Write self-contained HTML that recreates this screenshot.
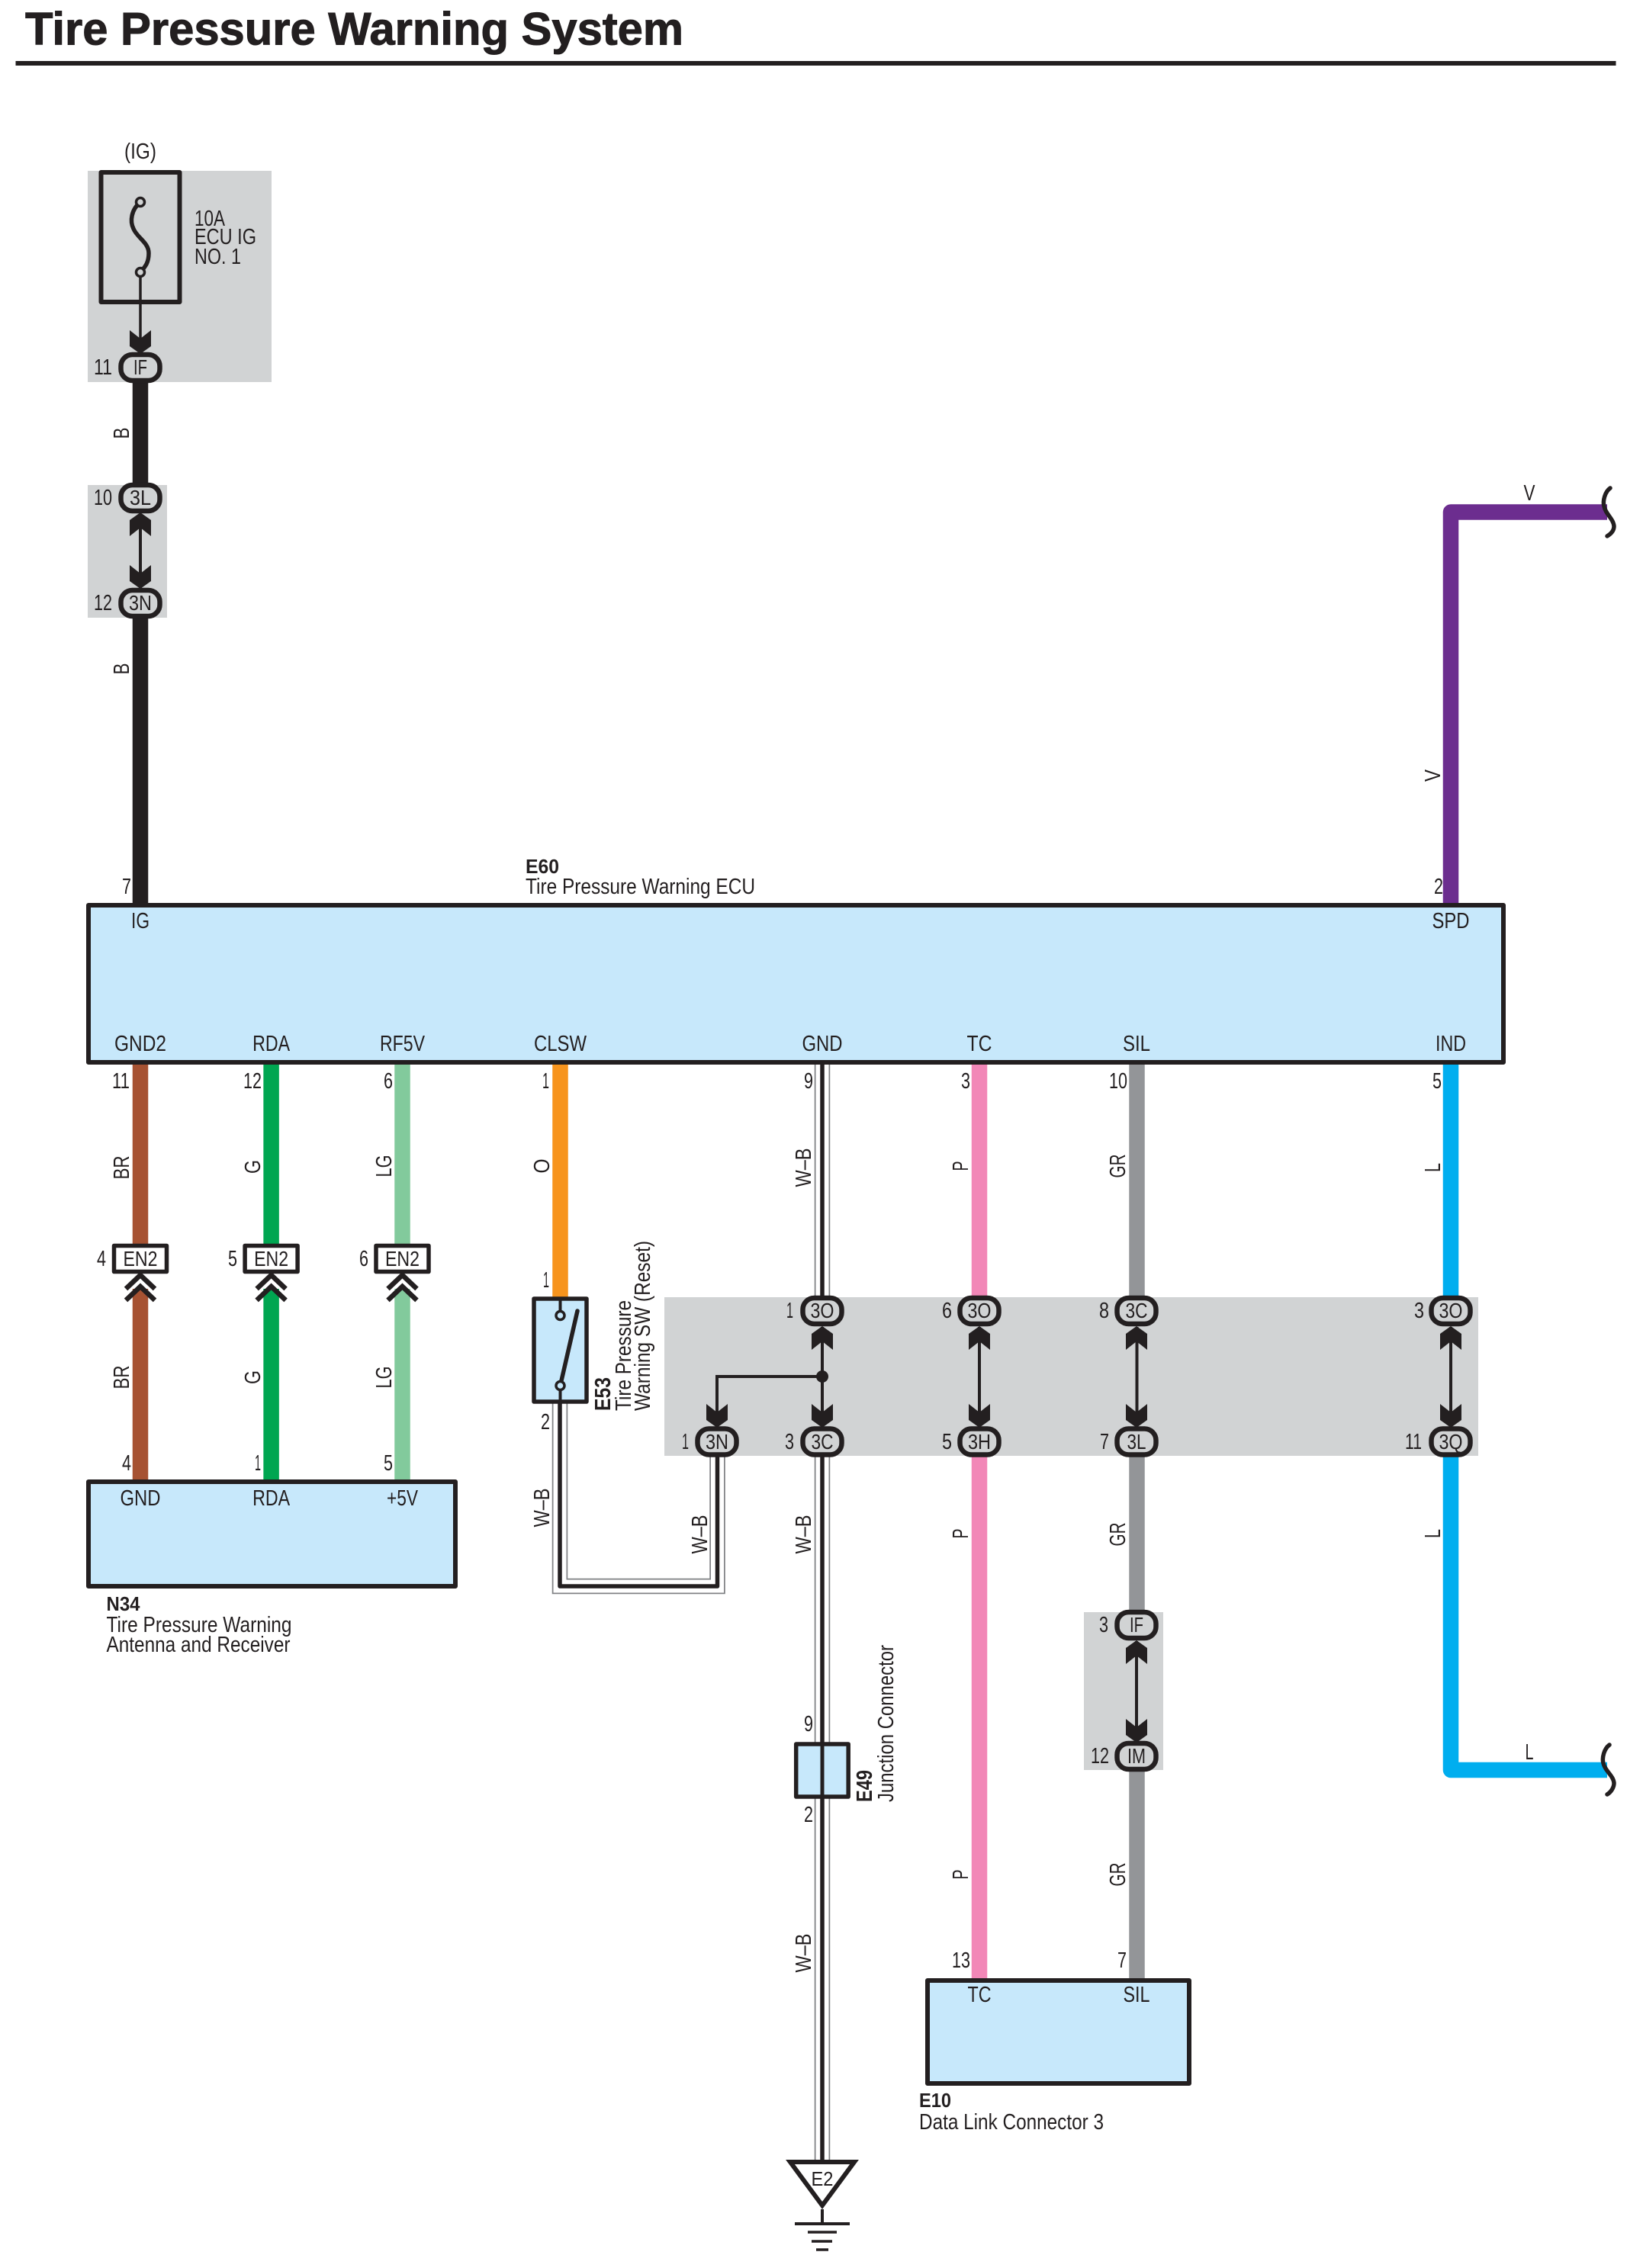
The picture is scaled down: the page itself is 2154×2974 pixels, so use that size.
<!DOCTYPE html>
<html><head><meta charset="utf-8"><title>Tire Pressure Warning System</title>
<style>
html,body{margin:0;padding:0;background:#fff}
svg{display:block}
text{font-family:"Liberation Sans",sans-serif;fill:#231f20;font-size:29px}
.m{text-anchor:middle}
.e{text-anchor:end}
.c{font-size:28px;text-anchor:middle}
.n{font-size:29px;text-anchor:end}
.b{font-weight:bold}
</style></head><body>
<svg xmlns="http://www.w3.org/2000/svg" width="2154" height="2974" viewBox="0 0 2154 2974">
<defs>
<path id="d" d="M0 0L-14 -10L-14 -31L0 -20L14 -31L14 -10Z" fill="#231f20"/>
<path id="u" d="M0 0L-14 10L-14 31L0 20L14 31L14 10Z" fill="#231f20"/>
<rect id="k" x="-25.500" y="-17" width="51" height="34" rx="15" fill="#d1d3d4" stroke="#231f20" stroke-width="6.500"/>
<g id="ch" fill="none" stroke="#231f20" stroke-width="6.500"><path d="M-19 19L0 1L19 19"/><path d="M-19 34L0 16L19 34"/></g>
<rect id="en" x="-34.500" y="-17" width="69" height="34" fill="#fff" stroke="#231f20" stroke-width="5.500" stroke-linejoin="round"/>
</defs>
<rect width="2154" height="2974" fill="#fff"/>

<!-- title -->
<text x="33" y="58.500" font-weight="bold" style="font-size:60px;stroke:#231f20;stroke-width:1" textLength="863" lengthAdjust="spacingAndGlyphs">Tire Pressure Warning System</text>
<rect x="20.500" y="80" width="2098" height="6" fill="#231f20"/>

<!-- grey zones -->
<rect x="115" y="224" width="241" height="277" fill="#d1d3d4"/>
<rect x="115" y="636" width="104" height="174" fill="#d1d3d4"/>
<rect x="871" y="1701" width="1067" height="208" fill="#d1d3d4"/>
<rect x="1421" y="2114" width="104" height="207" fill="#d1d3d4"/>

<!-- coloured wires -->
<g fill="none" stroke-width="20.500">
<path d="M184 500V636M184 810V1186" stroke="#231f20"/>
<path d="M1902 1186V671.500H2107" stroke="#6c2d8f" stroke-linejoin="round"/>
<path d="M184 1393V1632M184 1690V1942" stroke="#a65232"/>
<path d="M355.600 1393V1632M355.600 1690V1942" stroke="#00a651"/>
<path d="M527.500 1393V1632M527.500 1690V1942" stroke="#82ca9c"/>
<path d="M734.500 1393V1702" stroke="#f7941d"/>
<path d="M1284 1393V1700M1284 1910V2596" stroke="#f287b7"/>
<path d="M1490.500 1393V1700M1490.500 1910V2115M1490.500 2320V2596" stroke="#939598"/>
<path d="M1902 1393V1700M1902 1910V2321H2107" stroke="#00aeef" stroke-linejoin="round"/>
</g>

<!-- W-B wires -->
<g fill="none">
<path d="M1078 1393V1700M1078 1910V2836M734 1838V2080H940.500V1910" stroke="#808285" stroke-width="20.500"/>
<path d="M1078 1393V1700M1078 1910V2836M734 1838V2080H940.500V1910" stroke="#fff" stroke-width="17"/>
<path d="M1078 1393V1700M1078 1910V2836M734 1838V2080H940.500V1910" stroke="#231f20" stroke-width="5.500" stroke-linejoin="round"/>
</g>

<!-- fuse -->
<rect x="132.500" y="226" width="103" height="170" fill="none" stroke="#231f20" stroke-width="6" stroke-linejoin="round"/>
<path d="M184 265C172 275 170 290 175 300C180 312 195 318 195 332C195 345 190 350 184 357" fill="none" stroke="#231f20" stroke-width="5.500"/>
<path d="M184 357V465" stroke="#231f20" stroke-width="3.500"/>
<circle cx="184" cy="265" r="5.500" fill="#d1d3d4" stroke="#231f20" stroke-width="3.500"/>
<circle cx="184" cy="357" r="5.500" fill="#d1d3d4" stroke="#231f20" stroke-width="3.500"/>
<text x="255" y="296" textLength="40" lengthAdjust="spacingAndGlyphs">10A</text>
<text x="255" y="320" textLength="81" lengthAdjust="spacingAndGlyphs">ECU IG</text>
<text x="255" y="346" textLength="61" lengthAdjust="spacingAndGlyphs">NO. 1</text>
<text x="184" y="208" class="m" textLength="42" lengthAdjust="spacingAndGlyphs">(IG)</text>

<!-- inner arrow links -->
<g stroke="#231f20" stroke-width="4" fill="none">
<path d="M184 675V775"/>
<path d="M1078 1740V1870M1078 1805H940V1870"/>
<path d="M1284 1740V1870"/>
<path d="M1490.500 1740V1870"/>
<path d="M1902 1740V1870"/>
<path d="M1490 2152V2284"/>
</g>
<circle cx="1078" cy="1805" r="8" fill="#231f20"/>
<use href="#d" x="184" y="464"/>
<use href="#u" x="184" y="672"/>
<use href="#d" x="184" y="772"/>
<use href="#u" x="1078" y="1739"/>
<use href="#u" x="1284" y="1739"/>
<use href="#u" x="1490" y="1739"/>
<use href="#u" x="1902" y="1739"/>
<use href="#d" x="940" y="1872"/>
<use href="#d" x="1078" y="1872"/>
<use href="#d" x="1284" y="1872"/>
<use href="#d" x="1490" y="1872"/>
<use href="#d" x="1902" y="1872"/>
<use href="#u" x="1490" y="2151"/>
<use href="#d" x="1490" y="2285"/>

<!-- ovals -->
<use href="#k" x="184" y="482"/>
<use href="#k" x="184" y="653"/>
<use href="#k" x="184" y="791"/>
<use href="#k" x="1078" y="1719"/>
<use href="#k" x="1284" y="1719"/>
<use href="#k" x="1490" y="1719"/>
<use href="#k" x="1902" y="1719"/>
<use href="#k" x="940" y="1890.500"/>
<use href="#k" x="1078" y="1890.500"/>
<use href="#k" x="1284" y="1890.500"/>
<use href="#k" x="1490" y="1890.500"/>
<use href="#k" x="1902" y="1890.500"/>
<use href="#k" x="1490" y="2131"/>
<use href="#k" x="1490" y="2303"/>

<text x="184" y="491" class="c" textLength="18" lengthAdjust="spacingAndGlyphs">IF</text>
<text x="184" y="662" class="c" textLength="28" lengthAdjust="spacingAndGlyphs">3L</text>
<text x="184" y="800" class="c" textLength="30" lengthAdjust="spacingAndGlyphs">3N</text>
<text x="1078" y="1728" class="c" textLength="31" lengthAdjust="spacingAndGlyphs">3O</text>
<text x="1284" y="1728" class="c" textLength="31" lengthAdjust="spacingAndGlyphs">3O</text>
<text x="1490" y="1728" class="c" textLength="29" lengthAdjust="spacingAndGlyphs">3C</text>
<text x="1902" y="1728" class="c" textLength="31" lengthAdjust="spacingAndGlyphs">3O</text>
<text x="940" y="1900" class="c" textLength="30" lengthAdjust="spacingAndGlyphs">3N</text>
<text x="1078" y="1900" class="c" textLength="29" lengthAdjust="spacingAndGlyphs">3C</text>
<text x="1284" y="1900" class="c" textLength="30" lengthAdjust="spacingAndGlyphs">3H</text>
<text x="1490" y="1900" class="c" textLength="25" lengthAdjust="spacingAndGlyphs">3L</text>
<text x="1902" y="1900" class="c" textLength="31" lengthAdjust="spacingAndGlyphs">3Q</text>
<text x="1490" y="2140" class="c" textLength="18" lengthAdjust="spacingAndGlyphs">IF</text>
<text x="1490" y="2312" class="c" textLength="24" lengthAdjust="spacingAndGlyphs">IM</text>

<!-- oval pin numbers -->
<text x="147" y="491" class="n" textLength="24" lengthAdjust="spacingAndGlyphs">11</text>
<text x="147" y="662" class="n" textLength="24" lengthAdjust="spacingAndGlyphs">10</text>
<text x="147" y="800" class="n" textLength="24" lengthAdjust="spacingAndGlyphs">12</text>
<text x="1040" y="1728" class="n" textLength="9" lengthAdjust="spacingAndGlyphs">1</text>
<text x="1248" y="1728" class="n" textLength="13" lengthAdjust="spacingAndGlyphs">6</text>
<text x="1454" y="1728" class="n" textLength="13" lengthAdjust="spacingAndGlyphs">8</text>
<text x="1867" y="1728" class="n" textLength="13" lengthAdjust="spacingAndGlyphs">3</text>
<text x="903" y="1900" class="n" textLength="9" lengthAdjust="spacingAndGlyphs">1</text>
<text x="1041" y="1900" class="n" textLength="12" lengthAdjust="spacingAndGlyphs">3</text>
<text x="1248" y="1900" class="n" textLength="13" lengthAdjust="spacingAndGlyphs">5</text>
<text x="1454" y="1900" class="n" textLength="12" lengthAdjust="spacingAndGlyphs">7</text>
<text x="1864" y="1900" class="n" textLength="22" lengthAdjust="spacingAndGlyphs">11</text>
<text x="1453" y="2140" class="n" textLength="12" lengthAdjust="spacingAndGlyphs">3</text>
<text x="1454" y="2312" class="n" textLength="24" lengthAdjust="spacingAndGlyphs">12</text>

<!-- ECU -->
<rect x="116" y="1187" width="1855" height="206" fill="#c7e8fb" stroke="#231f20" stroke-width="6" stroke-linejoin="round"/>
<text x="689" y="1145" class="b" style="font-size:26px" textLength="44" lengthAdjust="spacingAndGlyphs">E60</text>
<text x="689" y="1172" textLength="301" lengthAdjust="spacingAndGlyphs">Tire Pressure Warning ECU</text>
<text x="184" y="1217" class="m" textLength="24" lengthAdjust="spacingAndGlyphs">IG</text>
<text x="1902" y="1217" class="m" textLength="49" lengthAdjust="spacingAndGlyphs">SPD</text>
<text x="184" y="1378" class="m" textLength="68" lengthAdjust="spacingAndGlyphs">GND2</text>
<text x="355.600" y="1378" class="m" textLength="49" lengthAdjust="spacingAndGlyphs">RDA</text>
<text x="527.500" y="1378" class="m" textLength="59" lengthAdjust="spacingAndGlyphs">RF5V</text>
<text x="734.500" y="1378" class="m" textLength="69" lengthAdjust="spacingAndGlyphs">CLSW</text>
<text x="1078" y="1378" class="m" textLength="53" lengthAdjust="spacingAndGlyphs">GND</text>
<text x="1284" y="1378" class="m" textLength="33" lengthAdjust="spacingAndGlyphs">TC</text>
<text x="1490" y="1378" class="m" textLength="36" lengthAdjust="spacingAndGlyphs">SIL</text>
<text x="1902" y="1378" class="m" textLength="40" lengthAdjust="spacingAndGlyphs">IND</text>

<text x="172" y="1172" class="n" textLength="12" lengthAdjust="spacingAndGlyphs">7</text>
<text x="1892" y="1172" class="n" textLength="12" lengthAdjust="spacingAndGlyphs">2</text>
<text x="170" y="1427" class="n" textLength="23" lengthAdjust="spacingAndGlyphs">11</text>
<text x="343" y="1427" class="n" textLength="24" lengthAdjust="spacingAndGlyphs">12</text>
<text x="515" y="1427" class="n" textLength="12" lengthAdjust="spacingAndGlyphs">6</text>
<text x="720" y="1427" class="n" textLength="9" lengthAdjust="spacingAndGlyphs">1</text>
<text x="1066" y="1427" class="n" textLength="12" lengthAdjust="spacingAndGlyphs">9</text>
<text x="1272" y="1427" class="n" textLength="12" lengthAdjust="spacingAndGlyphs">3</text>
<text x="1478" y="1427" class="n" textLength="24" lengthAdjust="spacingAndGlyphs">10</text>
<text x="1890" y="1427" class="n" textLength="12" lengthAdjust="spacingAndGlyphs">5</text>

<!-- EN2 connectors -->
<use href="#en" x="184" y="1650.500"/>
<use href="#en" x="355.600" y="1650.500"/>
<use href="#en" x="527.500" y="1650.500"/>
<use href="#ch" x="184" y="1671"/>
<use href="#ch" x="355.600" y="1671"/>
<use href="#ch" x="527.500" y="1671"/>
<text x="184" y="1660" class="c" textLength="45" lengthAdjust="spacingAndGlyphs">EN2</text>
<text x="355.600" y="1660" class="c" textLength="45" lengthAdjust="spacingAndGlyphs">EN2</text>
<text x="527.500" y="1660" class="c" textLength="45" lengthAdjust="spacingAndGlyphs">EN2</text>
<text x="139" y="1660" class="n" textLength="12" lengthAdjust="spacingAndGlyphs">4</text>
<text x="311" y="1660" class="n" textLength="12" lengthAdjust="spacingAndGlyphs">5</text>
<text x="483" y="1660" class="n" textLength="12" lengthAdjust="spacingAndGlyphs">6</text>

<!-- N34 -->
<rect x="116" y="1943" width="481" height="137" fill="#c7e8fb" stroke="#231f20" stroke-width="6" stroke-linejoin="round"/>
<text x="172" y="1928" class="n" textLength="12" lengthAdjust="spacingAndGlyphs">4</text>
<text x="342" y="1928" class="n" textLength="8" lengthAdjust="spacingAndGlyphs">1</text>
<text x="515" y="1928" class="n" textLength="12" lengthAdjust="spacingAndGlyphs">5</text>
<text x="184" y="1974" class="m" textLength="53" lengthAdjust="spacingAndGlyphs">GND</text>
<text x="355.600" y="1974" class="m" textLength="49" lengthAdjust="spacingAndGlyphs">RDA</text>
<text x="527.500" y="1974" class="m" textLength="41" lengthAdjust="spacingAndGlyphs">+5V</text>
<text x="139.500" y="2112" class="b" style="font-size:26px" textLength="44" lengthAdjust="spacingAndGlyphs">N34</text>
<text x="139.500" y="2140" textLength="243" lengthAdjust="spacingAndGlyphs">Tire Pressure Warning</text>
<text x="139.500" y="2166" textLength="241" lengthAdjust="spacingAndGlyphs">Antenna and Receiver</text>

<!-- E53 switch -->
<rect x="700" y="1703" width="69" height="135" fill="#c7e8fb" stroke="#231f20" stroke-width="5.500" stroke-linejoin="round"/>
<path d="M734.500 1703V1720M734.500 1822V1838" stroke="#231f20" stroke-width="4"/>
<path d="M734.500 1817L757 1719" stroke="#231f20" stroke-width="5.500" stroke-linecap="round"/>
<circle cx="734.500" cy="1725" r="5.500" fill="#c7e8fb" stroke="#231f20" stroke-width="3.500"/>
<circle cx="734.500" cy="1817" r="5.500" fill="#c7e8fb" stroke="#231f20" stroke-width="3.500"/>
<text x="720" y="1688" class="n" textLength="8" lengthAdjust="spacingAndGlyphs">1</text>
<text x="721" y="1874" class="n" textLength="12" lengthAdjust="spacingAndGlyphs">2</text>
<text transform="translate(800,1850) rotate(-90)" class="b" style="font-size:29px" textLength="44" lengthAdjust="spacingAndGlyphs">E53</text>
<text transform="translate(827,1850) rotate(-90)" textLength="145" lengthAdjust="spacingAndGlyphs">Tire Pressure</text>
<text transform="translate(852,1850) rotate(-90)" textLength="223" lengthAdjust="spacingAndGlyphs">Warning SW (Reset)</text>

<!-- E49 -->
<rect x="1043.700" y="2287" width="68.500" height="69" fill="#c7e8fb" stroke="#231f20" stroke-width="5.500" stroke-linejoin="round"/>
<path d="M1078 2287V2356" stroke="#231f20" stroke-width="5"/>
<text x="1066" y="2270" class="n" textLength="12" lengthAdjust="spacingAndGlyphs">9</text>
<text x="1066" y="2389" class="n" textLength="12" lengthAdjust="spacingAndGlyphs">2</text>
<text transform="translate(1143,2363) rotate(-90)" class="b" style="font-size:29px" textLength="42" lengthAdjust="spacingAndGlyphs">E49</text>
<text transform="translate(1171,2363) rotate(-90)" textLength="206" lengthAdjust="spacingAndGlyphs">Junction Connector</text>

<!-- ground -->
<polygon points="1036,2835 1120,2835 1078,2892" fill="#fff" stroke="#231f20" stroke-width="6"/>
<text x="1078" y="2866" class="m" style="font-size:26px" textLength="29" lengthAdjust="spacingAndGlyphs">E2</text>
<path d="M1078 2897V2916" stroke="#231f20" stroke-width="4"/>
<path d="M1042 2916H1114" stroke="#231f20" stroke-width="4"/>
<path d="M1059 2927H1097M1064 2939H1091M1070 2950H1086" stroke="#231f20" stroke-width="3.500"/>

<!-- E10 -->
<rect x="1216" y="2597" width="343" height="135" fill="#c7e8fb" stroke="#231f20" stroke-width="6" stroke-linejoin="round"/>
<text x="1272" y="2580" class="n" textLength="24" lengthAdjust="spacingAndGlyphs">13</text>
<text x="1477" y="2580" class="n" textLength="12" lengthAdjust="spacingAndGlyphs">7</text>
<text x="1284" y="2625" class="m" textLength="31" lengthAdjust="spacingAndGlyphs">TC</text>
<text x="1490" y="2625" class="m" textLength="35" lengthAdjust="spacingAndGlyphs">SIL</text>
<text x="1205" y="2763" class="b" style="font-size:26px" textLength="42" lengthAdjust="spacingAndGlyphs">E10</text>
<text x="1205" y="2792" textLength="242" lengthAdjust="spacingAndGlyphs">Data Link Connector 3</text>

<!-- break marks -->
<g fill="none" stroke="#231f20" stroke-width="5.500" stroke-linecap="round">
<path d="M2111 640C2104 645 2101 657 2103 664C2105 674 2115 680 2116 690C2116 696 2112 700 2107 703"/>
<path d="M2110 2288C2103 2293 2100 2305 2102 2312C2104 2322 2115 2328 2116 2338C2116 2344 2112 2350 2107 2353"/>
</g>
<text x="2005" y="656" class="m" textLength="15" lengthAdjust="spacingAndGlyphs">V</text>
<text x="2005" y="2307" class="m" textLength="11" lengthAdjust="spacingAndGlyphs">L</text>

<!-- rotated wire colour labels -->
<g class="m">
<text transform="translate(169,568) rotate(-90)" class="m" textLength="15" lengthAdjust="spacingAndGlyphs">B</text>
<text transform="translate(169,877) rotate(-90)" class="m" textLength="15" lengthAdjust="spacingAndGlyphs">B</text>
<text transform="translate(1888,1017) rotate(-90)" class="m" textLength="16" lengthAdjust="spacingAndGlyphs">V</text>
<text transform="translate(169,1531) rotate(-90)" class="m" textLength="31" lengthAdjust="spacingAndGlyphs">BR</text>
<text transform="translate(341,1530) rotate(-90)" class="m" textLength="18" lengthAdjust="spacingAndGlyphs">G</text>
<text transform="translate(513,1529) rotate(-90)" class="m" textLength="29" lengthAdjust="spacingAndGlyphs">LG</text>
<text transform="translate(720,1529) rotate(-90)" class="m" textLength="19" lengthAdjust="spacingAndGlyphs">O</text>
<text transform="translate(1063,1531) rotate(-90)" class="m" textLength="51" lengthAdjust="spacingAndGlyphs">W–B</text>
<text transform="translate(1269,1529) rotate(-90)" class="m" textLength="13" lengthAdjust="spacingAndGlyphs">P</text>
<text transform="translate(1475,1529) rotate(-90)" class="m" textLength="31" lengthAdjust="spacingAndGlyphs">GR</text>
<text transform="translate(1888,1531) rotate(-90)" class="m" textLength="12" lengthAdjust="spacingAndGlyphs">L</text>
<text transform="translate(169,1806) rotate(-90)" class="m" textLength="31" lengthAdjust="spacingAndGlyphs">BR</text>
<text transform="translate(341,1806) rotate(-90)" class="m" textLength="18" lengthAdjust="spacingAndGlyphs">G</text>
<text transform="translate(513,1806) rotate(-90)" class="m" textLength="29" lengthAdjust="spacingAndGlyphs">LG</text>
<text transform="translate(720,1977) rotate(-90)" class="m" textLength="51" lengthAdjust="spacingAndGlyphs">W–B</text>
<text transform="translate(927,2012) rotate(-90)" class="m" textLength="51" lengthAdjust="spacingAndGlyphs">W–B</text>
<text transform="translate(1063,2012) rotate(-90)" class="m" textLength="51" lengthAdjust="spacingAndGlyphs">W–B</text>
<text transform="translate(1269,2011) rotate(-90)" class="m" textLength="13" lengthAdjust="spacingAndGlyphs">P</text>
<text transform="translate(1475,2012) rotate(-90)" class="m" textLength="31" lengthAdjust="spacingAndGlyphs">GR</text>
<text transform="translate(1888,2011) rotate(-90)" class="m" textLength="12" lengthAdjust="spacingAndGlyphs">L</text>
<text transform="translate(1269,2458) rotate(-90)" class="m" textLength="13" lengthAdjust="spacingAndGlyphs">P</text>
<text transform="translate(1475,2458) rotate(-90)" class="m" textLength="31" lengthAdjust="spacingAndGlyphs">GR</text>
<text transform="translate(1063,2561) rotate(-90)" class="m" textLength="51" lengthAdjust="spacingAndGlyphs">W–B</text>
</g>
</svg>
</body></html>
